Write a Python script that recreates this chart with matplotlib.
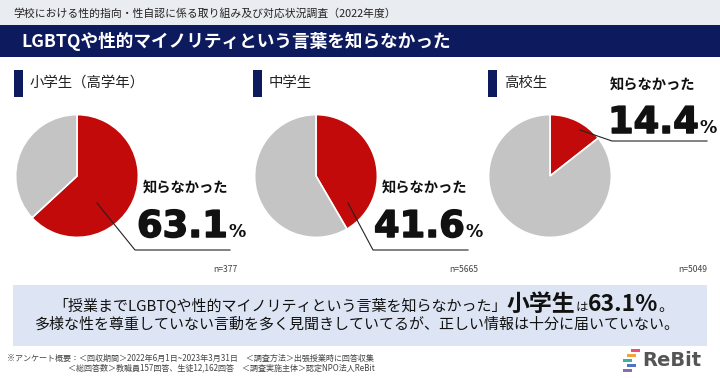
import matplotlib
matplotlib.use("Agg")
import matplotlib.pyplot as plt
import matplotlib.patheffects as pe
from matplotlib.patches import Rectangle

plt.rcParams["font.family"] = ["Noto Sans CJK JP", "DejaVu Sans"]

# data
groups = ["小学生（高学年）", "中学生", "高校生"]
pct_unknown = [63.1, 41.6, 14.4]
n_resp = [377, 5665, 5049]
answer_label = "知らなかった"

subtitle = "学校における性的指向・性自認に係る取り組み及び対応状況調査（2022年度）"
title = "LGBTQや性的マイノリティという言葉を知らなかった"
note1 = "※アンケート概要：＜回収期間＞2022年6月1日~2023年3月31日　＜調査方法＞出張授業時に回答収集"
note2 = "＜総回答数＞教職員157回答、生徒12,162回答　＜調査実施主体＞認定NPO法人ReBit"

RED = "#c20a0a"
GREY = "#c4c4c4"
NAVY = "#0d1b5e"
BAND = "#e9ecf1"
BOX = "#dde5f4"

W, H = 720, 378

# panel layout in pixels: pie centre, header bar x, label pos, number pos, leader line
panels = [
    dict(c=(77, 176), bar=14, lab=(143, 188), num=(137, 237),
         line=[(97, 203), (135, 250), (230, 250)], n_x=237),
    dict(c=(316, 176), bar=253, lab=(382, 188), num=(374, 237),
         line=[(348, 203), (373, 250), (468, 250)], n_x=478),
    dict(c=(550, 176), bar=488, lab=(610, 85), num=(608, 133),
         line=[(580, 130), (612, 141), (707, 141)], n_x=707),
]
R = 62

fig = plt.figure(figsize=(7.2, 3.78), dpi=100)
fig.patch.set_facecolor("white")

ov = fig.add_axes([0, 0, 1, 1], zorder=10)
ov.set_xlim(0, W)
ov.set_ylim(H, 0)
ov.axis("off")
ov.patch.set_alpha(0)

renderer = fig.canvas.get_renderer()
heavy = [pe.withStroke(linewidth=1.1, foreground="#111111")]


def put(x, y, s, **kw):
    t = ov.text(x, y, s, **kw)
    return t, t.get_window_extent(renderer).width


# header bands
ov.add_patch(Rectangle((0, 0), W, 25, color=BAND, lw=0))
ov.add_patch(Rectangle((0, 25), W, 32, color=NAVY, lw=0))
ov.text(13, 13, subtitle, fontsize=7.8, color="#222222", va="center")
ov.text(21, 41, title, fontsize=12.7, color="white", fontweight="bold", va="center")

for i, p in enumerate(panels):
    cx, cy = p["c"]
    ax = fig.add_axes([(cx - R) / W, 1 - (cy + R) / H, 2 * R / W, 2 * R / H])
    ax.pie([pct_unknown[i], 100 - pct_unknown[i]], colors=[RED, GREY],
           startangle=90, counterclock=False,
           wedgeprops=dict(edgecolor="white", linewidth=1.2))
    ax.set_xlim(-1.01, 1.01)
    ax.set_ylim(-1.01, 1.01)

    ov.add_patch(Rectangle((p["bar"], 70), 9, 27, color=NAVY, lw=0))
    ov.text(p["bar"] + 16, 83, groups[i], fontsize=10.4, color="#222222", va="center")

    ov.text(p["lab"][0], p["lab"][1], answer_label, fontsize=10.3,
            fontweight="bold", color="#111111", va="center")
    nx, ny = p["num"]
    _, w = put(nx, ny, f"{pct_unknown[i]:.1f}", fontsize=26.5, fontweight="bold",
               family="DejaVu Sans", color="#111111", va="baseline",
               path_effects=heavy)
    put(nx + w + 1, ny, "%", fontsize=12.5, fontweight="bold",
        family="DejaVu Sans", color="#111111", va="baseline")

    xs = [q[0] for q in p["line"]]
    ys = [q[1] for q in p["line"]]
    ov.plot(xs, ys, color="#222222", lw=0.8)

    ov.text(p["n_x"], 270, f"n={n_resp[i]}", fontsize=6.2, color="#444444",
            ha="right", va="center")

# summary box
ov.add_patch(Rectangle((13, 285), 694, 61, color=BOX, lw=0))
pieces = [
    ("「授業までLGBTQや性的マイノリティという言葉を知らなかった」", 10.8, "normal"),
    ("小学生", 16.5, "bold"),
    ("は", 9, "normal"),
    (f"{pct_unknown[0]}%", 16.5, "bold"),
    ("。", 10.8, "normal"),
]
widths = []
for s, fs, fw in pieces:
    t, w = put(0, 0, s, fontsize=fs, fontweight=fw)
    t.remove()
    widths.append(w)
x = W / 2 - sum(widths) / 2 + 3
for (s, fs, fw), w in zip(pieces, widths):
    ov.text(x, 311, s, fontsize=fs, fontweight=fw, color="#111111", va="baseline")
    x += w
ov.text(W / 2 - 3, 324,
        "多様な性を尊重していない言動を多く見聞きしていてるが、正しい情報は十分に届いていない。",
        fontsize=10.8, color="#111111", ha="center", va="center")

# footnote
ov.text(7, 358, note1, fontsize=5.8, color="#444444", va="center")
ov.text(68, 368, note2, fontsize=5.8, color="#444444", va="center")

# logo
logo_bars = [("#e8507a", 631, 349), ("#f2a33a", 627, 354), ("#36b3a3", 623, 359),
             ("#4f73c4", 627, 364), ("#8d6bb4", 623, 369)]
for col, bx, by in logo_bars:
    ov.add_patch(Rectangle((bx, by), 9, 3.2, color=col, lw=0))
ov.text(642, 361, "ReBit", fontsize=14, fontweight="bold", color="#555555",
        family="DejaVu Sans", va="center")

fig.savefig("out.png", dpi=100)
